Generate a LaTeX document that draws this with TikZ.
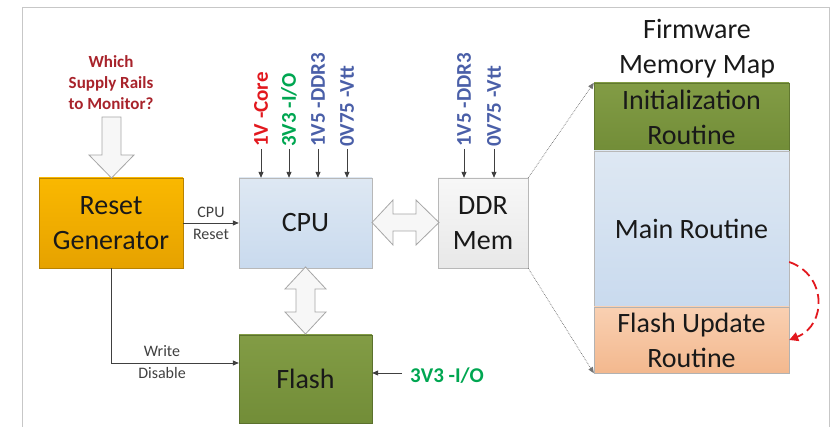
\documentclass[tikz,border=0pt]{standalone}
\usepackage{fontspec}
\setmainfont{Carlito}
\usetikzlibrary{arrows.meta,shadings}
\definecolor{rstT}{HTML}{FAB800}
\definecolor{rstB}{HTML}{E6A200}
\definecolor{cpuT}{HTML}{DEE8F3}
\definecolor{cpuB}{HTML}{C9DAEE}
\definecolor{olvT}{HTML}{829C45}
\definecolor{olvB}{HTML}{728D38}
\definecolor{fuT}{HTML}{F9D0B2}
\definecolor{fuB}{HTML}{F3B88E}
\definecolor{qred}{HTML}{A8232B}
\definecolor{rred}{HTML}{E2181E}
\definecolor{rgreen}{HTML}{00A651}
\definecolor{rblue}{HTML}{4A5FA8}
\definecolor{conng}{HTML}{7F7F7F}
\definecolor{tipg}{HTML}{404040}
\begin{document}
\begin{tikzpicture}[x=1pt,y=-1pt,
  big/.style={font=\fontsize{28}{35}\selectfont, align=center, text=black!90},
  small/.style={font=\fontsize{16}{19}\selectfont, text=black!75, inner sep=1pt},
  blk/.style={draw, inner sep=0pt, big},
  conn/.style={draw=conng, line width=0.8pt, -{Triangle[length=6pt,width=5pt]}, tipg},
  dconn/.style={draw=black!55, line width=0.7pt, densely dotted, -{Triangle[length=6pt,width=5pt]}},
  rail/.style={rotate=90, anchor=west, inner sep=2pt, font=\bfseries\fontsize{21}{24}\selectfont},
  barrow/.style={fill=black!3, draw=black!35, line width=0.8pt, line join=miter}
]
\useasboundingbox (0,0) rectangle (839,427);
% frame
\draw[black!22, line width=1pt] (22,427) -- (22,8) -- (829,8) -- (829,427);

% main boxes
\node[blk, draw=rstB!80!black, top color=rstT, bottom color=rstB, minimum width=144pt, minimum height=90pt] (reset) at (111,223) {Reset\\Generator};
\node[blk, draw=black!28, top color=cpuT, bottom color=cpuB, minimum width=133pt, minimum height=90pt] (cpu) at (305.5,223) {CPU};
\node[blk, draw=black!28, top color=white!97!black, bottom color=black!9, minimum width=90pt, minimum height=90pt] (ddr) at (483,223) {DDR\\Mem};
\node[blk, draw=olvB!80!black, top color=olvT, bottom color=olvB, minimum width=133pt, minimum height=88pt] (flash) at (305.5,379) {Flash};

% memory map
\node[big] (fwtitle) at (697,49) {Firmware\\Memory Map};
\node[blk, draw=olvB!85!black, top color=olvT, bottom color=olvB, minimum width=195pt, minimum height=68pt] (init) at (691.5,117) {Initialization\\Routine};
\node[blk, draw=black!28, top color=cpuT, bottom color=cpuB, minimum width=195pt, minimum height=156pt] (main) at (691.5,229) {Main Routine};
\node[blk, draw=black!30, top color=fuT, bottom color=fuB, minimum width=195pt, minimum height=66pt] (fu) at (691.5,340) {Flash Update\\Routine};

% question
\node[font=\bfseries\fontsize{17}{21}\selectfont, text=qred, align=center] (q) at (111,83) {Which\\Supply Rails\\to Monitor?};

% block arrows
\draw[barrow] (102,117) -- (121,117) -- (121,155) -- (134,155) -- (111.5,178) -- (89,155) -- (102,155) -- cycle;
\draw[barrow] (372,222.5) -- (393,200) -- (393,214) -- (416,214) -- (416,200) -- (439,222.5) -- (416,245) -- (416,231) -- (393,231) -- (393,245) -- cycle;
\draw[barrow] (305.5,267) -- (326,289) -- (315,289) -- (315,312) -- (326,312) -- (305.5,334) -- (285,312) -- (296,312) -- (296,289) -- (285,289) -- cycle;

% rails on CPU
\node[rail, text=rred] (r1) at (261,149) {1V -Core};
\node[rail, text=rgreen] (r2) at (289,149) {3V3 -I/O};
\node[rail, text=rblue] (r3) at (318,149) {1V5 -DDR3};
\node[rail, text=rblue] (r4) at (347,149) {0V75 -Vtt};
\foreach \r in {r1,r2,r3,r4} \draw[conn] (\r.west) -- (\r.west |- cpu.north);
% rails on DDR
\node[rail, text=rblue] (d1) at (464,149) {1V5 -DDR3};
\node[rail, text=rblue] (d2) at (494,149) {0V75 -Vtt};
\foreach \r in {d1,d2} \draw[conn] (\r.west) -- (\r.west |- ddr.north);

% reset connections
\draw[conn] (reset) -- (cpu);
\node[small] (lcpu) at (211,212) {CPU};
\node[small] (lrst) at (211,234) {Reset};
\draw[conn] (reset.south) |- ([yshift=16pt]flash.west);
\node[small] (lw) at (162,351) {Write};
\node[small] (ld) at (162,373) {Disable};

% flash supply
\node[font=\bfseries\fontsize{21}{24}\selectfont, text=rgreen, anchor=west, inner sep=0pt] (fv) at (410,376) {3V3 -I/O};
\coordinate (fvs) at (402,373);
\draw[conn] (fvs) -- (flash.east |- fvs);

% memory map pointers
\draw[dconn] (ddr.north east) -- (init.north west);
\draw[dconn] (ddr.south east) -- (fu.south west);

% jump arrow
\draw[draw=rred, line width=1.8pt, dash pattern=on 10pt off 5pt, -{Triangle[length=9pt,width=9pt]}] ([yshift=-33pt]main.east) .. controls (827,275) and (827,325) .. (fu.east);
\end{tikzpicture}
\end{document}
